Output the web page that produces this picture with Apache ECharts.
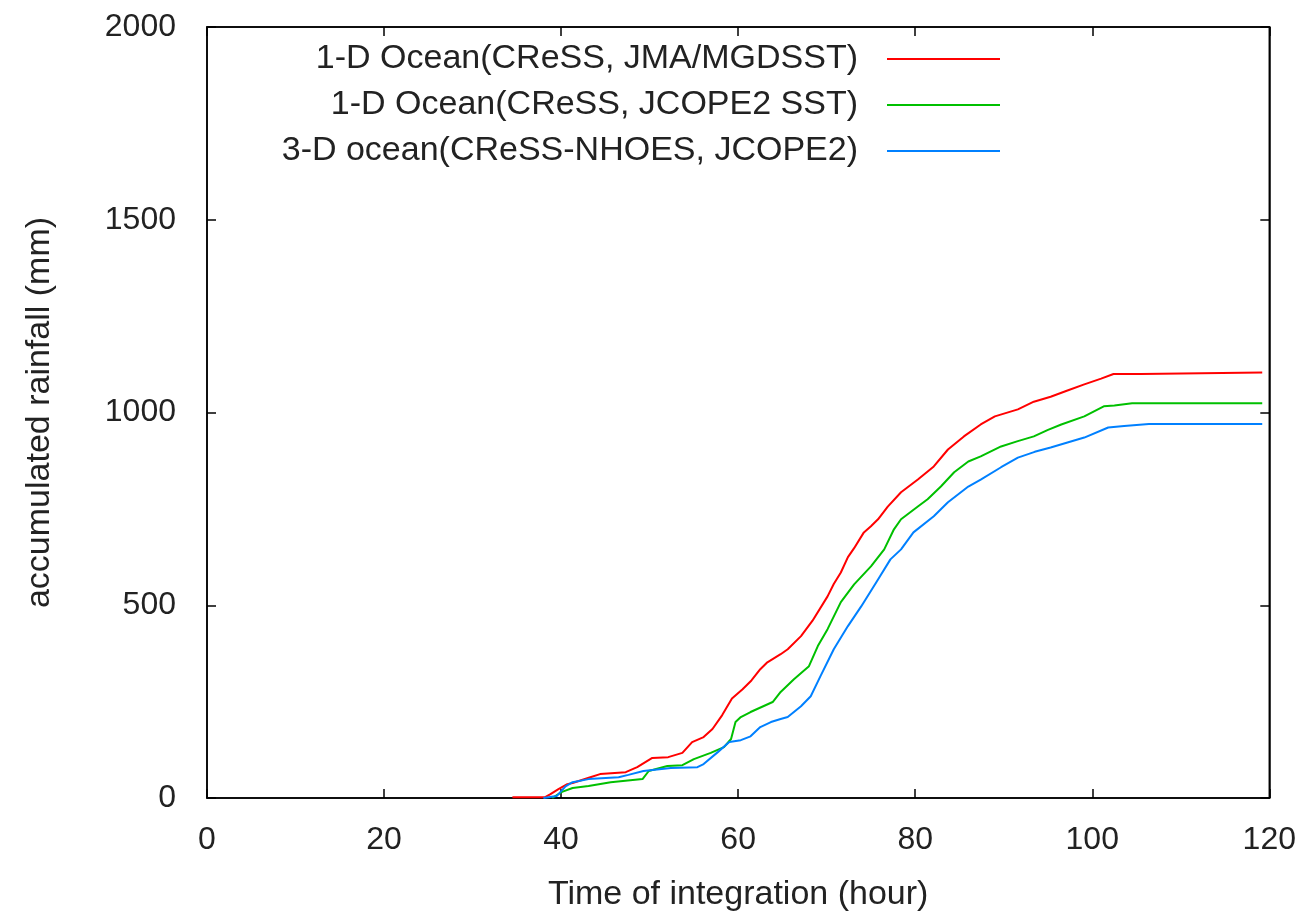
<!DOCTYPE html>
<html>
<head>
<meta charset="utf-8">
<script src="https://cdn.jsdelivr.net/npm/echarts@6/dist/echarts.min.js"></script>
<style>html,body{margin:0;padding:0;background:#fff;}#c{width:1299px;height:917px;}</style>
</head>
<body>
<div id="c"></div>
<script>
var seriesNames = [
  '1-D Ocean(CReSS, JMA/MGDSST)',
  '1-D Ocean(CReSS, JCOPE2 SST)',
  '3-D ocean(CReSS-NHOES, JCOPE2)'
];
var xTicks = [0, 20, 40, 60, 80, 100, 120];
var yTicks = [0, 500, 1000, 1500, 2000];

var redHours = [34.5,38.2,38.8,39.7,40.7,41.3,43.3,44.4,47.3,48.6,50.3,52.1,53.7,54.8,56.1,57.1,58.2,59.3,60.5,61.5,62.5,63.3,64.8,65.6,67.1,68.4,70.1,70.8,71.6,72.4,73.1,74.2,75.0,75.8,76.9,78.4,80.3,82.1,83.7,85.5,87.4,89.0,91.6,93.4,95.3,97.2,99.1,101.0,102.4,105.5,105.6,119.2];
var redRain  = [2,2,10,23,36,39,54,62,67,80,104,106,117,145,158,179,215,258,282,305,334,352,373,386,420,460,523,555,585,625,648,689,705,723,756,793,826,860,904,938,969,990,1008,1028,1041,1057,1073,1088,1100,1100,1104,1104];

var greenHours = [39.0,40.1,41.3,43.1,45.6,49.2,49.9,52.0,53.7,55.0,56.9,58.4,59.2,59.7,60.3,61.4,63.9,64.8,66.3,68.0,69.0,70.1,71.6,73.1,75.0,76.5,77.6,78.4,80.3,81.4,82.9,84.4,86.0,87.4,89.7,91.5,93.4,95.0,96.5,99.1,101.3,102.5,104.5,119.2];
var greenRain  = [0,16,26,31,41,49,70,83,85,101,117,132,153,197,210,223,249,275,308,342,394,438,508,554,601,645,697,723,756,775,808,845,873,886,912,925,938,955,969,990,1016,1018,1024,1024];

var blueHours = [38.0,39.5,40.5,41.3,43.1,46.5,47.6,49.3,52.4,55.4,56.1,57.7,59.0,60.3,61.4,62.5,63.7,64.8,65.6,67.1,68.2,69.3,70.8,72.4,73.9,75.8,77.2,78.4,79.8,82.1,83.7,86.0,87.4,89.7,91.6,93.5,95.3,97.2,99.1,101.8,103.6,106.4,119.2];
var blueRain  = [0,5,30,41,49,54,60,70,78,80,88,119,145,150,160,184,197,205,210,238,264,316,386,446,497,567,619,645,689,731,767,808,826,858,883,898,909,922,935,961,965,970,970];

var colors = ['#ff0000', '#00c000', '#0080ff'];

function pairs(h, v) { return h.map(function (x, i) { return [x, v[i]]; }); }
var allData = [pairs(redHours, redRain), pairs(greenHours, greenRain), pairs(blueHours, blueRain)];

function lineStyle() { return { color: '#000', width: 1.5 }; }
function tick() { return { show: true, inside: true, length: 9, lineStyle: lineStyle() }; }
function axLine() { return { show: true, onZero: false, lineStyle: lineStyle() }; }

var chart = echarts.init(document.getElementById('c'));
chart.setOption({
  animation: false,
  backgroundColor: '#fff',
  grid: { left: 207, right: 29, top: 27, bottom: 118, show: true, borderColor: '#000', borderWidth: 1.5 },
  legend: {
    orient: 'vertical',
    align: 'right',
    right: 294,
    top: 37,
    itemWidth: 113,
    itemHeight: 2,
    itemGap: 12,
    icon: 'rect',
    data: seriesNames,
    textStyle: { fontFamily: 'Liberation Sans', fontSize: 34, color: '#222', padding: [0, 24, 0, 0] }
  },
  xAxis: [{
    type: 'value', min: 0, max: 120, interval: 20,
    name: 'Time of integration (hour)', nameLocation: 'middle', nameGap: 80,
    nameTextStyle: { fontFamily: 'Liberation Sans', fontSize: 34, color: '#222' },
    axisLine: axLine(),
    axisTick: tick(),
    axisLabel: { fontFamily: 'Liberation Sans', fontSize: 32, color: '#222', margin: 26,
      formatter: function (v) { return xTicks.indexOf(v) >= 0 ? String(v) : ''; } },
    splitLine: { show: false }
  }, {
    type: 'value', min: 0, max: 120, interval: 20, position: 'top',
    axisLine: axLine(),
    axisTick: tick(),
    axisLabel: { show: false }, splitLine: { show: false }
  }],
  yAxis: [{
    type: 'value', min: 0, max: 2000, interval: 500,
    name: 'accumulated rainfall (mm)', nameLocation: 'middle', nameGap: 150,
    nameTextStyle: { fontFamily: 'Liberation Sans', fontSize: 34, color: '#222' },
    axisLine: axLine(),
    axisTick: tick(),
    axisLabel: { fontFamily: 'Liberation Sans', fontSize: 32, color: '#222', margin: 31,
      formatter: function (v) { return yTicks.indexOf(v) >= 0 ? String(v) : ''; } },
    splitLine: { show: false }
  }, {
    type: 'value', min: 0, max: 2000, interval: 500, position: 'right',
    axisLine: axLine(),
    axisTick: tick(),
    axisLabel: { show: false }, splitLine: { show: false }
  }],
  series: seriesNames.map(function (n, i) {
    return {
      name: n, type: 'line', xAxisIndex: 0, yAxisIndex: 0,
      data: allData[i], showSymbol: false, symbol: 'none',
      lineStyle: { color: colors[i], width: 2 },
      itemStyle: { color: colors[i] }
    };
  })
});
</script>
</body>
</html>
